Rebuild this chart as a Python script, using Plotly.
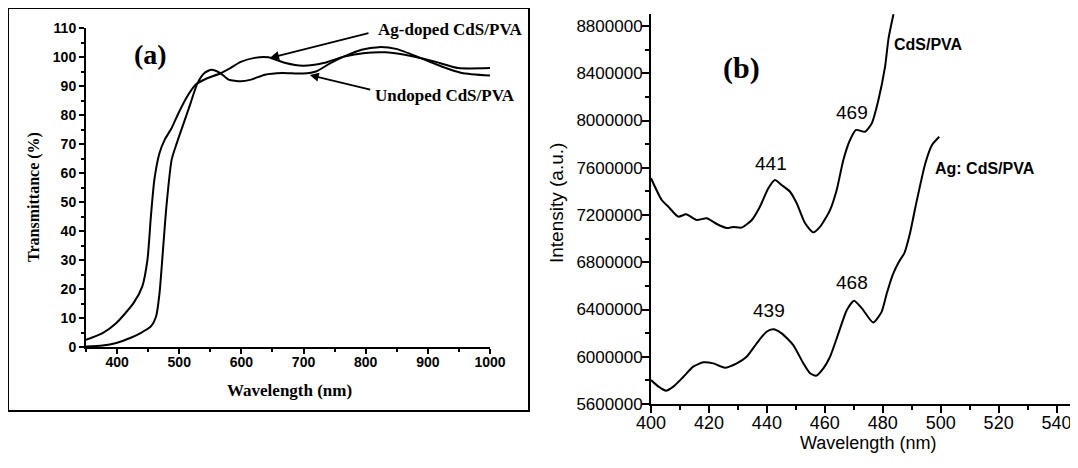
import plotly.graph_objects as go

# page body has an 8 px margin; positions below are in screen pixels
OFF = 8
W, H = 1070, 460

# ---------------- Panel (a): Transmittance ----------------
ag_wl = [350, 376.7, 398.9, 426.7, 440.6, 448.9, 454.4, 460, 468.3, 476.7, 487.8, 498.9,
         512.8, 526.7, 543.3, 565.6, 582.2, 598.9, 621.1, 643.3, 671.1, 698.9, 732.2,
         765.6, 798.9, 832.2, 876.7, 910, 948.9, 1000]
ag_T = [2.5, 4.8, 8.3, 15.2, 20.9, 30.1, 45, 57.7, 66.9, 71.5, 75.5, 80.7,
        86.4, 90.5, 92.5, 94.3, 96.2, 98.3, 99.7, 99.9, 97.9, 97.0, 97.9,
        100.2, 101.4, 101.6, 100.2, 98.5, 96.2, 96.2]

un_wl = [350, 376.7, 398.9, 421.1, 437.8, 454.4, 462.8, 468.3, 473.9, 479.4, 487.8, 496.1,
         507.2, 518.3, 529.4, 540.6, 551.7, 565.6, 579.4, 598.9, 615.6, 637.8, 665.6,
         698.9, 721.1, 743.3, 765.6, 793.3, 821.1, 848.9, 887.8, 921.1, 954.4, 1000]
un_T = [0.2, 0.5, 1.4, 3.1, 4.8, 7.1, 10.6, 18.6, 33.6, 48.5, 64.6, 70.3,
        77.2, 84.1, 91.0, 94.5, 95.6, 94.5, 92.2, 91.6, 92.2, 93.9, 94.5,
        94.3, 95.1, 97.9, 100.2, 102.5, 103.4, 102.8, 99.7, 96.8, 94.5, 93.6]

# ---------------- Panel (b): PL intensity ----------------
cds_wl = [400, 403.7, 406, 409.4, 412.1, 415.8, 419.2, 422.7, 426.1, 428.4, 431.3, 434.8,
          437.6, 440.5, 442.8, 445.1, 448, 450.3, 453.2, 456, 458.4, 461.8, 464.1, 466.4,
          468.7, 470.8, 473.9, 476.2, 478.5, 480.8, 482, 483.7]
cds_I = [7511000, 7327000, 7270000, 7186000, 7206000, 7158000, 7172000, 7124000, 7090000,
         7098000, 7093000, 7158000, 7270000, 7426000, 7496000, 7454000, 7397000, 7299000,
         7130000, 7053000, 7101000, 7242000, 7412000, 7666000, 7835000, 7920000, 7905000,
         7976000, 8174000, 8456000, 8696000, 8900000]

agc_wl = [400, 402.6, 405.2, 407.7, 411.2, 414.6, 418.1, 421.5, 425.5, 429.6, 433, 436.5,
          439.9, 442.2, 445.1, 449.1, 452.6, 454.9, 457, 459.5, 461.8, 464.7, 467.6, 470.1,
          472.8, 476.7, 479.6, 481.4, 483.4, 485.5, 487.5, 489.4, 491.3, 494.7, 497, 499.5]
agc_I = [5803000, 5747000, 5713000, 5747000, 5831000, 5916000, 5953000, 5944000, 5907000,
         5944000, 6000000, 6114000, 6212000, 6232000, 6198000, 6099000, 5944000, 5860000,
         5840000, 5902000, 6000000, 6198000, 6396000, 6475000, 6410000, 6290000, 6380000,
         6537000, 6692000, 6800000, 6880000, 7045000, 7270000, 7638000, 7793000, 7863000]

peak_labels_b = ["441", "469", "439", "468"]
peak_pos_b = [(441.5, 7640000), (469.3, 8070000), (440.7, 6390000), (469.5, 6630000)]

a_xticks = [400, 500, 600, 700, 800, 900, 1000]
a_yticks = [0, 10, 20, 30, 40, 50, 60, 70, 80, 90, 100, 110]
b_xticks = [400, 420, 440, 460, 480, 500, 520, 540]
b_yticks = [5600000, 6000000, 6400000, 6800000, 7200000, 7600000, 8000000, 8400000, 8800000]


def px(xp):
    return (xp - OFF) / W


def py(yp):
    return (H - (yp - OFF)) / H


SERIF = "Liberation Serif, Times New Roman, serif"
SANS = "Liberation Sans, Arial, sans-serif"

fig = go.Figure()

line_a = dict(color="black", width=2, shape="spline", smoothing=0.6)
fig.add_trace(go.Scatter(x=ag_wl, y=ag_T, mode="lines", line=line_a, xaxis="x", yaxis="y",
                         name="Ag-doped CdS/PVA", showlegend=False))
fig.add_trace(go.Scatter(x=un_wl, y=un_T, mode="lines", line=line_a, xaxis="x", yaxis="y",
                         name="Undoped CdS/PVA", showlegend=False))

line_b = dict(color="black", width=2, shape="spline", smoothing=0.6)
fig.add_trace(go.Scatter(x=cds_wl, y=cds_I, mode="lines", line=line_b, xaxis="x2", yaxis="y2",
                         name="CdS/PVA", showlegend=False))
fig.add_trace(go.Scatter(x=agc_wl, y=agc_I, mode="lines", line=line_b, xaxis="x2", yaxis="y2",
                         name="Ag: CdS/PVA", showlegend=False))

common = dict(showline=True, linecolor="black", linewidth=2, ticks="outside",
              tickcolor="black", showgrid=False, zeroline=False, mirror=False,
              automargin=False)

fig.update_layout(
    template="none",
    width=W, height=H,
    margin=dict(l=0, r=0, t=0, b=0, pad=0, autoexpand=False),
    paper_bgcolor="white", plot_bgcolor="white",
    xaxis=dict(domain=[px(86), px(490)], range=[350, 1000], anchor="y",
               tickvals=a_xticks, ticklen=5, tickwidth=1.5, ticklabelstandoff=-4,
               tickfont=dict(family=SANS, size=14, color="black", weight="bold"),
               minor=dict(ticks="outside", dtick=50, tick0=350, ticklen=3, tickcolor="black", tickwidth=1.5),
               **common),
    yaxis=dict(domain=[py(347), py(28)], range=[0, 110], anchor="x",
               tickvals=a_yticks, ticklen=5, tickwidth=1.5,
               tickfont=dict(family=SANS, size=14, color="black", weight="bold"),
               minor=dict(ticks="outside", dtick=5, tick0=0, ticklen=3, tickcolor="black", tickwidth=1.5),
               **common),
    xaxis2=dict(domain=[px(651), 1.0], range=[400, 547.4], anchor="y2",
                tickvals=b_xticks, ticklen=7, tickwidth=1.5, ticklabelstandoff=-6,
                tickfont=dict(family=SANS, size=18, color="black"),
                minor=dict(ticks="outside", dtick=10, tick0=400, ticklen=4, tickcolor="black", tickwidth=1.5),
                **common),
    yaxis2=dict(domain=[py(404), py(14)], range=[5600000, 8901600], anchor="x2",
                tickvals=b_yticks, tickformat="d", ticklen=7, tickwidth=1.5, ticklabelstandoff=-4,
                tickfont=dict(family=SANS, size=17, color="black"),
                minor=dict(ticks="outside", dtick=200000, tick0=5600000, ticklen=4, tickcolor="black", tickwidth=1.5),
                **common),
)

# frame around panel (a)
fig.add_shape(type="rect", xref="paper", yref="paper",
              x0=px(8), x1=px(529), y0=py(411), y1=py(8),
              line=dict(color="black", width=2), fillcolor="rgba(0,0,0,0)")


def label(text, xp, yp, font, xanchor="center", angle=0):
    return dict(text=text, x=px(xp), y=py(yp), xref="paper", yref="paper",
                xanchor=xanchor, yanchor="middle", showarrow=False,
                textangle=angle, font=font)


ann = []
# panel (a) texts
ann.append(label("(a)", 150, 55, dict(family=SERIF, size=28, color="black", weight="bold")))
ann.append(label("Transmittance (%)", 34, 197,
                 dict(family=SERIF, size=16, color="black", weight="bold"), angle=-90))
ann.append(label("Wavelength (nm)", 289, 390, dict(family=SERIF, size=17, color="black", weight="bold")))
ann.append(label("Ag-doped CdS/PVA", 376, 30,
                 dict(family=SERIF, size=17, color="black", weight="bold"), xanchor="left"))
ann.append(label("Undoped CdS/PVA", 373, 95,
                 dict(family=SERIF, size=17, color="black", weight="bold"), xanchor="left"))
# arrows (tip on curve, tail near label)
ann.append(dict(text="", x=646, y=99.7, xref="x", yref="y", ax=100, ay=-25,
                showarrow=True, arrowhead=2, arrowsize=1, arrowwidth=1.8, arrowcolor="black"))
ann.append(dict(text="", x=710, y=93.8, xref="x", yref="y", ax=62, ay=15,
                showarrow=True, arrowhead=2, arrowsize=1, arrowwidth=1.8, arrowcolor="black"))

# panel (b) texts
ann.append(label("(b)", 741, 68, dict(family=SERIF, size=30, color="black", weight="bold")))
ann.append(label("Intensity (a.u.)", 556, 203, dict(family=SANS, size=19, color="black"), angle=-90))
ann.append(label("Wavelength (nm)", 868, 443, dict(family=SANS, size=18, color="black")))
ann.append(label("CdS/PVA", 892, 45, dict(family=SANS, size=16, color="black", weight="bold"),
                 xanchor="left"))
ann.append(label("Ag: CdS/PVA", 933, 168, dict(family=SANS, size=16, color="black", weight="bold"),
                 xanchor="left"))
for lab, (xv, yv) in zip(peak_labels_b, peak_pos_b):
    ann.append(dict(text=lab, x=xv, y=yv, xref="x2", yref="y2", showarrow=False,
                    xanchor="center", yanchor="middle",
                    font=dict(family=SANS, size=19, color="black")))

fig.update_layout(annotations=ann)

fig.write_html("out.html")
